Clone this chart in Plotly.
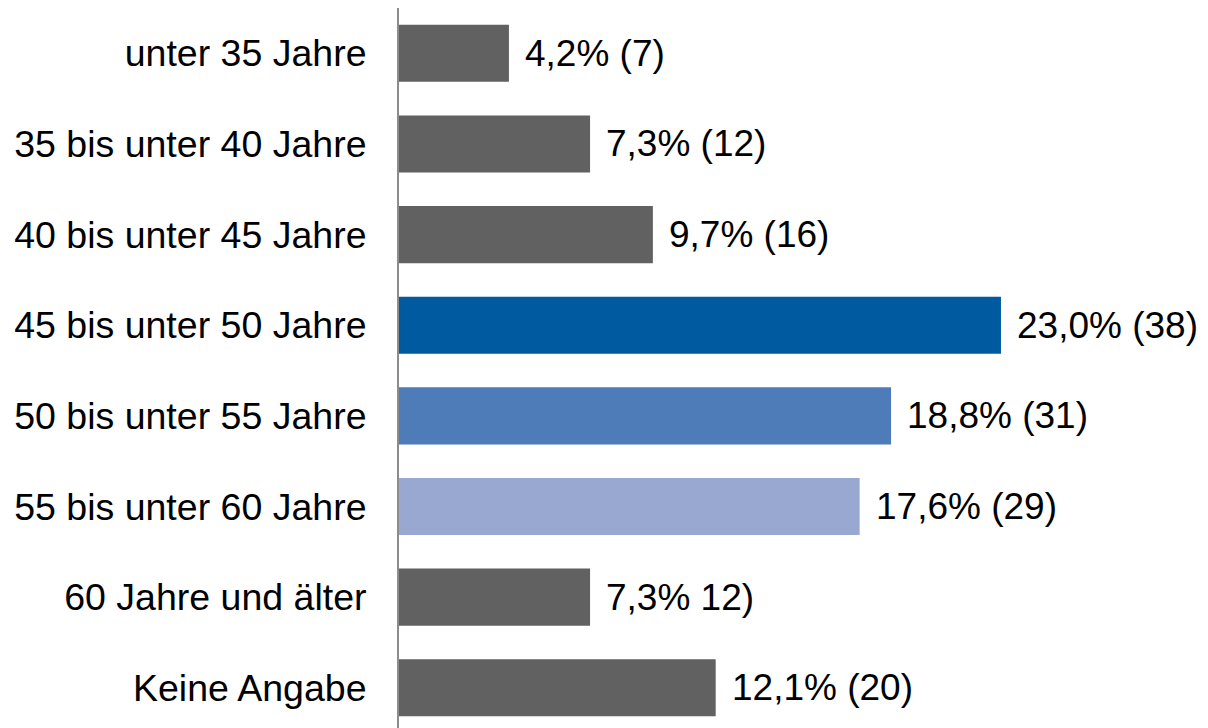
import plotly.graph_objects as go

categories = ["unter 35 Jahre", "35 bis unter 40 Jahre", "40 bis unter 45 Jahre",
              "45 bis unter 50 Jahre", "50 bis unter 55 Jahre", "55 bis unter 60 Jahre",
              "60 Jahre und älter", "Keine Angabe"]
percent = [4.2, 7.3, 9.7, 23.0, 18.8, 17.6, 7.3, 12.1]
labels = ["4,2% (7)", "7,3% (12)", "9,7% (16)", "23,0% (38)", "18,8% (31)",
          "17,6% (29)", "7,3% 12)", "12,1% (20)"]
colors = ["#616161", "#616161", "#616161", "#005AA0", "#4D7CB8", "#98A8D0",
          "#616161", "#616161"]

FONT = "Liberation Sans, Arial, sans-serif"

fig = go.Figure(go.Bar(
    y=categories, x=percent, orientation="h",
    marker=dict(color=colors, line=dict(width=0)),
    width=0.63,
    hoverinfo="skip",
))

for c, v, t in zip(categories, percent, labels):
    fig.add_annotation(x=v, y=c, text=t, showarrow=False, xanchor="left",
                       yanchor="middle", xshift=14,
                       font=dict(family=FONT, size=37, color="black"))

fig.update_layout(
    width=1208, height=728,
    margin=dict(l=399, r=0, t=8, b=0),
    plot_bgcolor="white", paper_bgcolor="white",
    showlegend=False,
    font=dict(family=FONT, size=37, color="black"),
    xaxis=dict(range=[0, 30.91], visible=False, fixedrange=True),
    yaxis=dict(range=[7.444, -0.5], showline=True, linecolor="#8C8C8C", linewidth=2,
               showgrid=False, zeroline=False, ticks="", ticklabelstandoff=23,
               tickfont=dict(family=FONT, size=37.5, color="black"),
               categoryorder="array", categoryarray=categories, fixedrange=True),
)

fig.write_html("out.html", config={"displayModeBar": False},
               post_script="document.body.style.margin='0';document.body.style.overflow='hidden';")
